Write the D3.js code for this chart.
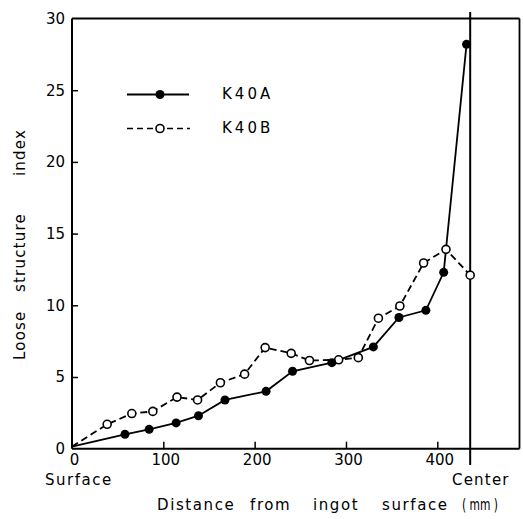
<!DOCTYPE html>
<html>
<head>
<meta charset="utf-8">
<script src="https://cdn.jsdelivr.net/npm/d3@7"></script>
<style>
  html, body { margin: 0; padding: 0; background: #fff; }
  text { font-family: "DejaVu Sans", sans-serif; fill: #000; }
</style>
</head>
<body>
<svg id="chart" width="523" height="519"></svg>
<script>
// Data
const seriesNames = ["K40A", "K40B"];
const k40aX = [0, 58, 84.5, 114, 138.5, 167.5, 212.5, 241.5, 284.5, 330, 358, 387.5, 407, 432];
const k40aY = [0.15, 1.0, 1.35, 1.8, 2.3, 3.4, 4.0, 5.4, 6.0, 7.1, 9.15, 9.65, 12.3, 28.2];
const k40bX = [0, 38.5, 65.5, 88.5, 115, 137.5, 162.5, 189, 211.5, 240, 260, 292, 313.5, 335.5, 359, 385, 409.5, 436];
const k40bY = [0.15, 1.7, 2.45, 2.6, 3.6, 3.4, 4.6, 5.2, 7.05, 6.65, 6.15, 6.2, 6.35, 9.1, 9.95, 12.95, 13.9, 12.1];
const xTicks = [0, 100, 200, 300, 400];
const yTicks = [0, 5, 10, 15, 20, 25, 30];
const centerX = 436;
const xDomain = [0, 490];
const yDomain = [0, 30];
const xTitleWords = ["Distance", "from", "ingot", "surface"];
const xTitleUnit = "( mm )";
const yTitleWords = ["Loose", "structure", "index"];

const svg = d3.select("#chart");
const x = d3.scaleLinear().domain(xDomain).range([72, 519.5]);
const y = d3.scaleLinear().domain(yDomain).range([448.7, 18.5]);

const a = k40aX.map((v, i) => [v, k40aY[i]]);
const b = k40bX.map((v, i) => [v, k40bY[i]]);

// Frame
const frame = svg.append("g").attr("stroke", "#000").attr("fill", "none");
frame.append("line").attr("x1", x(0)).attr("x2", x(0)).attr("y1", y(30)).attr("y2", y(0)).attr("stroke-width", 2);
frame.append("line").attr("x1", x(0)).attr("x2", x(490)).attr("y1", y(0)).attr("y2", y(0)).attr("stroke-width", 2);
frame.append("line").attr("x1", x(0)).attr("x2", x(490)).attr("y1", y(30)).attr("y2", y(30)).attr("stroke-width", 1.8);
frame.append("line").attr("x1", x(490)).attr("x2", x(490)).attr("y1", y(30)).attr("y2", y(0)).attr("stroke-width", 1.8);

// Axes
const yAxis = d3.axisLeft(y).tickValues(yTicks).tickSize(-6).tickPadding(7).tickFormat(d3.format("d"));
const gy = svg.append("g").attr("transform", `translate(${x(0)},0)`).call(yAxis);
gy.select(".domain").remove();
gy.selectAll(".tick line").attr("stroke", "#000").attr("stroke-width", 1.5).filter(d => d === 0 || d === 30).remove();
gy.selectAll(".tick text").attr("font-size", 15).attr("font-family", "DejaVu Sans");

const xAxis = d3.axisBottom(x).tickValues(xTicks).tickSize(-7).tickPadding(6).tickFormat(d3.format("d"));
const gx = svg.append("g").attr("transform", `translate(0,${y(0)})`).call(xAxis);
gx.select(".domain").remove();
gx.selectAll(".tick line").attr("stroke", "#000").attr("stroke-width", 1.5).filter(d => d === 0).remove();
gx.selectAll(".tick text").attr("font-size", 15).attr("font-family", "DejaVu Sans").attr("dx", 2);

// Center line
svg.append("line").attr("x1", x(centerX)).attr("x2", x(centerX)).attr("y1", 12).attr("y2", 465)
  .attr("stroke", "#000").attr("stroke-width", 2);

// Extra labels
svg.append("text").attr("x", 45).attr("y", 485).attr("font-size", 15).attr("letter-spacing", 1.5).text("Surface");
svg.append("text").attr("x", 452).attr("y", 485).attr("font-size", 15).attr("letter-spacing", 1.2).text("Center");

const xTitlePos = [157, 250, 313, 382];
svg.append("text").attr("y", 510).attr("font-size", 15).attr("letter-spacing", 1.6)
  .selectAll("tspan").data(xTitleWords).join("tspan")
  .attr("x", (d, i) => xTitlePos[i]).text(d => d);
svg.append("text").attr("x", 462).attr("y", 510).attr("font-size", 15)
  .attr("textLength", 36).attr("lengthAdjust", "spacingAndGlyphs").text(xTitleUnit);

const yTitlePos = [-360, -292, -176];
svg.append("text").attr("transform", "translate(25,0) rotate(-90)")
  .attr("font-size", 15).attr("letter-spacing", 1.2)
  .selectAll("tspan").data(yTitleWords).join("tspan")
  .attr("x", (d, i) => yTitlePos[i]).text(d => d);

// Lines
const line = d3.line().x(d => x(d[0])).y(d => y(d[1]));
svg.append("path").datum(b).attr("d", line).attr("fill", "none").attr("stroke", "#000")
  .attr("stroke-width", 1.8).attr("stroke-dasharray", "7,4");
svg.append("path").datum(a).attr("d", line).attr("fill", "none").attr("stroke", "#000")
  .attr("stroke-width", 1.8);

// Markers
svg.append("g").selectAll("circle").data(b.slice(1)).join("circle")
  .attr("cx", d => x(d[0])).attr("cy", d => y(d[1])).attr("r", 4)
  .attr("fill", "#fff").attr("stroke", "#000").attr("stroke-width", 1.6);
svg.append("g").selectAll("circle").data(a.slice(1)).join("circle")
  .attr("cx", d => x(d[0])).attr("cy", d => y(d[1])).attr("r", 4.5)
  .attr("fill", "#000");

// Legend
const leg = svg.append("g");
leg.append("line").attr("x1", 127).attr("x2", 189).attr("y1", 94.5).attr("y2", 94.5).attr("stroke", "#000").attr("stroke-width", 1.8);
leg.append("circle").attr("cx", 160).attr("cy", 94.5).attr("r", 4.5).attr("fill", "#000");
leg.append("text").attr("x", 222).attr("y", 99).attr("font-size", 15).attr("letter-spacing", 3).text(seriesNames[0]);
leg.append("line").attr("x1", 127).attr("x2", 190).attr("y1", 128.5).attr("y2", 128.5).attr("stroke", "#000").attr("stroke-width", 1.6).attr("stroke-dasharray", "6,4");
leg.append("circle").attr("cx", 160).attr("cy", 128.5).attr("r", 4).attr("fill", "#fff").attr("stroke", "#000").attr("stroke-width", 1.6);
leg.append("text").attr("x", 222).attr("y", 133).attr("font-size", 15).attr("letter-spacing", 3).text(seriesNames[1]);
</script>
</body>
</html>
